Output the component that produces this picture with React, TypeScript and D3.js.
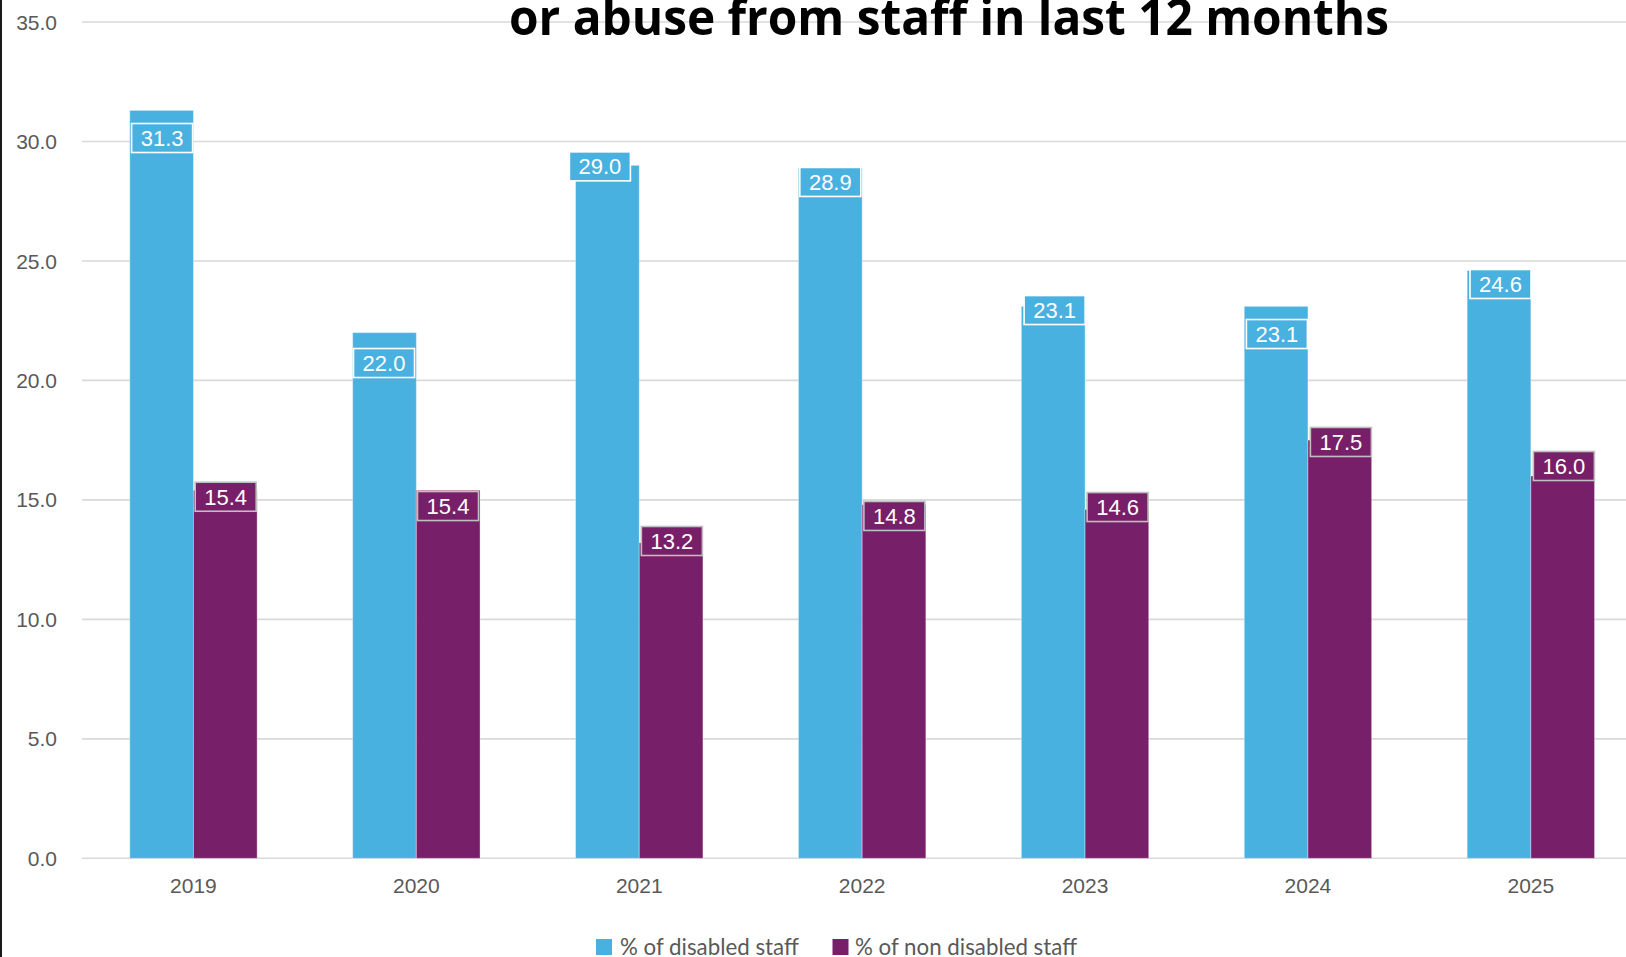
import React from "react";
import * as d3 from "d3";

const years = ["2019", "2020", "2021", "2022", "2023", "2024", "2025"];
const disabled = [31.3, 22.0, 29.0, 28.9, 23.1, 23.1, 24.6];
const nonDisabled = [15.4, 15.4, 13.2, 14.8, 14.6, 17.5, 16.0];
const seriesNames = ["% of disabled staff", "% of non disabled staff"];
const yTicks = [0, 5, 10, 15, 20, 25, 30, 35];
const titleLine = "or abuse from staff in last 12 months";

// label placement tweaks (pixels, relative to bar top / bar centre)
const disabledLabelDy = [27.6, 30.4, 1, 14.2, 3.7, 27.7, 13.5];
const disabledLabelDx = [0.5, -0.5, -7.5, 0, 1.4, 0.8, 1.5];
const nonDisabledLabelDy = [6.4, 15.7, -1.9, 11.3, -2.4, 1.8, -10];
const nonDisabledLabelDx = [0.4, -0.2, 0.8, 0.4, 0.7, 1.1, 1.2];

const W = 1626;
const H = 957;
const BLUE = "#48B1E0";
const PURPLE = "#781F69";
const AXIS_FONT = "'Liberation Sans', Arial, sans-serif";
const LEGEND_FONT = "Lato, 'Noto Sans', sans-serif";

export default function App() {
  const step = 222.9;
  const left = 82;
  const x0 = d3.scaleBand<string>().domain(years).range([left, left + step * years.length]).padding(0);
  const groupW = x0.bandwidth() * (2 / 3.5);
  const x1 = d3.scaleBand<string>().domain(["d", "n"]).range([0, groupW]).padding(0);
  const y = d3.scaleLinear().domain([0, 35]).range([858.3, 22]);
  const fmt = d3.format(".1f");

  const barX = (i: number, s: "d" | "n") =>
    (x0(years[i]) as number) + (x0.bandwidth() - groupW) / 2 + (x1(s) as number);

  const boxW = 61;
  const boxH = 29;

  const renderLabel = (v: number, i: number, s: "d" | "n") => {
    const cx = barX(i, s) + x1.bandwidth() / 2 + (s === "d" ? disabledLabelDx[i] : nonDisabledLabelDx[i]);
    const cy = y(v) + (s === "d" ? disabledLabelDy[i] : nonDisabledLabelDy[i]);
    return (
      <g key={`l-${s}-${i}`}>
        <rect
          x={cx - boxW / 2}
          y={cy - boxH / 2}
          width={boxW}
          height={boxH}
          fill={s === "d" ? BLUE : PURPLE}
          stroke={s === "d" ? "#ffffff" : "#BFBFBF"}
          strokeWidth={1.6}
        />
        <text
          x={cx}
          y={cy}
          dy="0.36em"
          textAnchor="middle"
          fill="#ffffff"
          fontFamily={AXIS_FONT}
          fontSize={22}
        >
          {fmt(v)}
        </text>
      </g>
    );
  };

  return (
    <div style={{ position: "fixed", left: 0, top: 0 }}>
      <svg width={W} height={H} style={{ display: "block", background: "#ffffff" }}>
        <rect x={0} y={0} width={W} height={H} fill="#ffffff" />
        {/* gridlines */}
        {yTicks.map((t) => (
          <line
            key={`g-${t}`}
            x1={left}
            x2={W}
            y1={y(t)}
            y2={y(t)}
            stroke="#D9D9D9"
            strokeWidth={1.6}
          />
        ))}
        {/* title (cropped at top, as in the original) */}
        <text
          x={949}
          y={35}
          textAnchor="middle"
          fontFamily="'Open Sans', 'Noto Sans', sans-serif"
          fontWeight={700}
          fontSize={50}
          fill="#000000"
          textLength={880}
          lengthAdjust="spacingAndGlyphs"
        >
          {titleLine}
        </text>
        {/* y axis labels */}
        {yTicks.map((t) => (
          <text
            key={`y-${t}`}
            x={57}
            y={y(t)}
            dy="0.36em"
            textAnchor="end"
            fontFamily={AXIS_FONT}
            fontSize={21}
            fill="#595959"
          >
            {fmt(t)}
          </text>
        ))}
        {/* bars */}
        {disabled.map((v, i) => (
          <rect
            key={`bd-${i}`}
            x={barX(i, "d")}
            y={y(v)}
            width={x1.bandwidth()}
            height={y(0) - y(v)}
            fill={BLUE}
            stroke="#ffffff"
            strokeOpacity={0.35}
            strokeWidth={1}
          />
        ))}
        {nonDisabled.map((v, i) => (
          <rect
            key={`bn-${i}`}
            x={barX(i, "n")}
            y={y(v)}
            width={x1.bandwidth()}
            height={y(0) - y(v)}
            fill={PURPLE}
            stroke="#ffffff"
            strokeOpacity={0.35}
            strokeWidth={1}
          />
        ))}
        {/* labels */}
        {disabled.map((v, i) => renderLabel(v, i, "d"))}
        {nonDisabled.map((v, i) => renderLabel(v, i, "n"))}
        {/* x labels */}
        {years.map((yr) => (
          <text
            key={`x-${yr}`}
            x={(x0(yr) as number) + x0.bandwidth() / 2}
            y={893}
            textAnchor="middle"
            fontFamily={AXIS_FONT}
            fontSize={21}
            fill="#595959"
          >
            {yr}
          </text>
        ))}
        {/* legend */}
        <rect x={596} y={939} width={16} height={16} fill={BLUE} />
        <text x={620} y={955} fontFamily={LEGEND_FONT} fontSize={22.3} fill="#595959">
          {seriesNames[0]}
        </text>
        <rect x={832.5} y={939} width={16} height={16} fill={PURPLE} />
        <text x={855} y={955} fontFamily={LEGEND_FONT} fontSize={22.3} fill="#595959">
          {seriesNames[1]}
        </text>
        {/* left border */}
        <rect x={0} y={0} width={2} height={H} fill="#1a1a1a" />
      </svg>
    </div>
  );
}
